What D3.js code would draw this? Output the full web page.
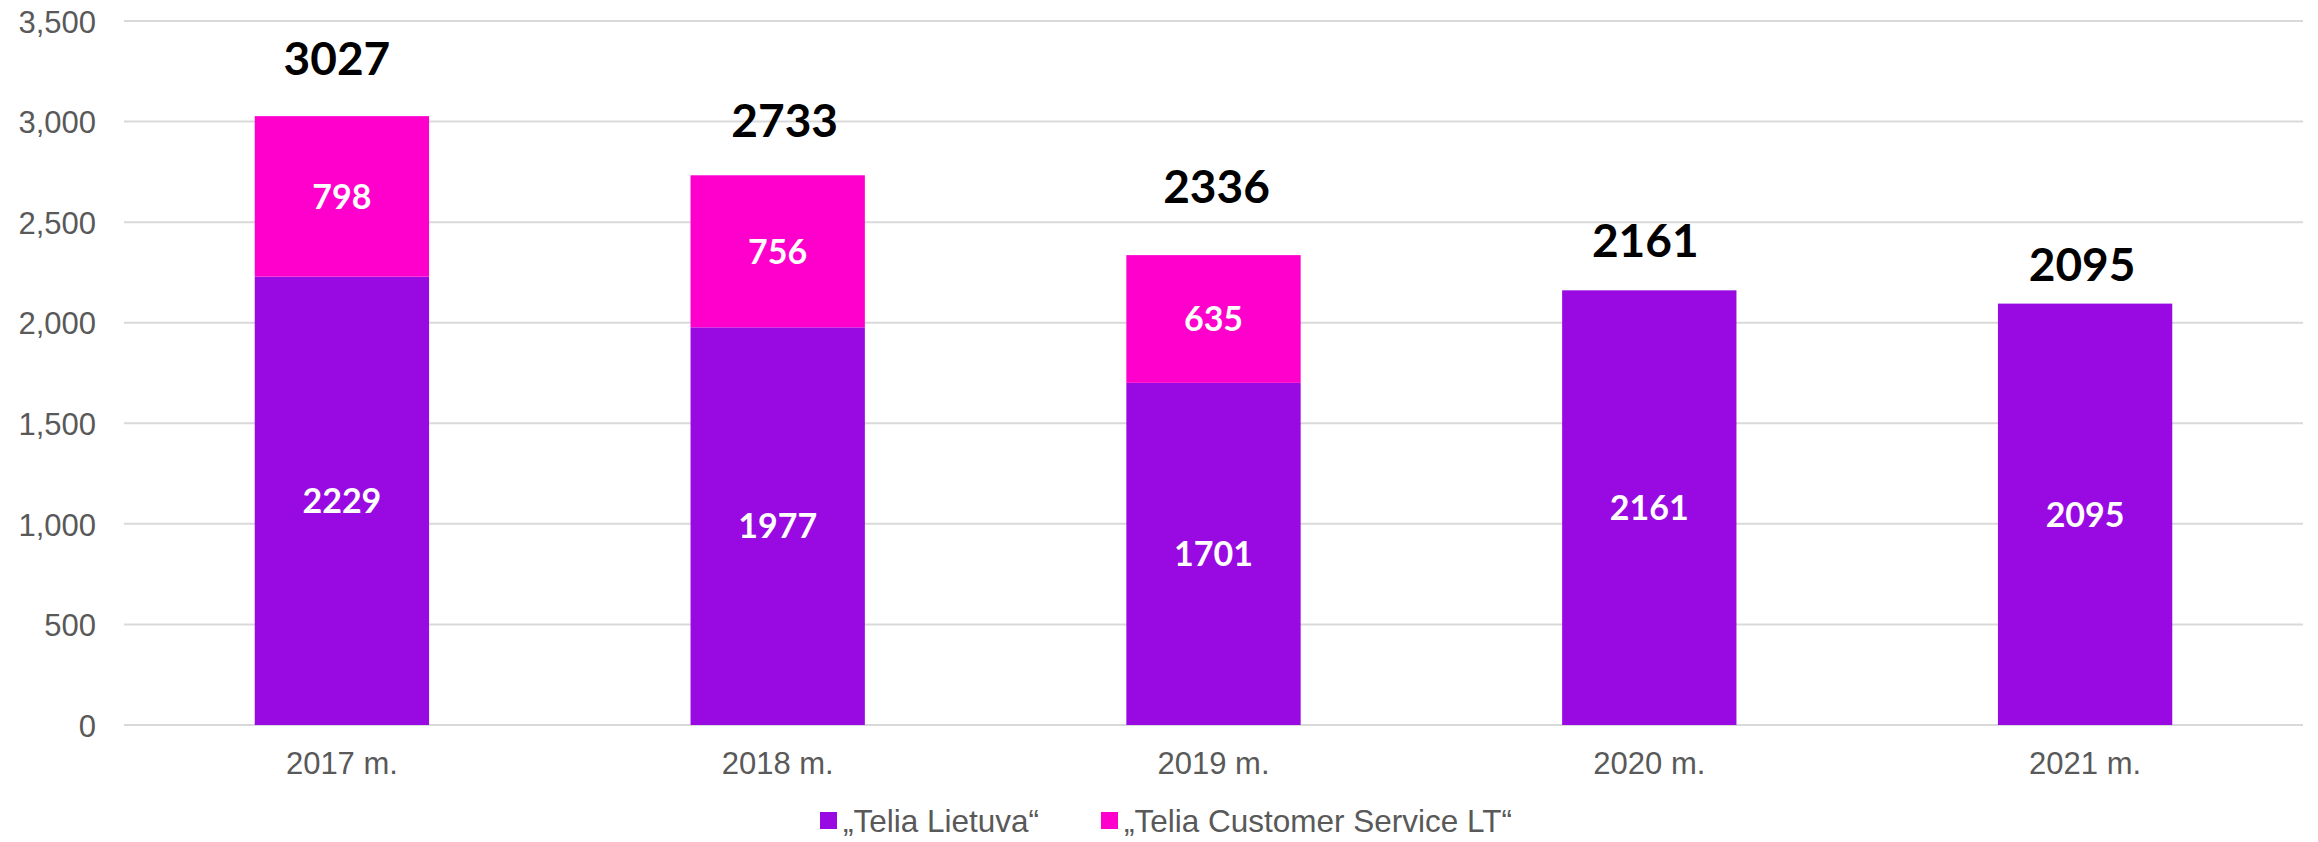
<!DOCTYPE html>
<head>
    <meta charset="utf-8">
    <script src="https://d3js.org/d3.v7.min.js"></script>
</head>
<style>
    body { margin: 0; background: #fff; }
    .yaxis path, .xaxis path, .xaxis line, .yaxis line { stroke: none; }
    .axis text { font-family: "Liberation Sans", Arial, sans-serif; font-size: 31px; fill: #595959; }
</style>
<body>
    <div id="chart"></div>
</body>

<script>
    // data
    const years = ["2017 m.", "2018 m.", "2019 m.", "2020 m.", "2021 m."];
    const teliaLietuva = [2229, 1977, 1701, 2161, 2095];
    const customerService = [798, 756, 635, 0, 0];
    const seriesNames = ["\u201ETelia Lietuva\u201C", "\u201ETelia Customer Service LT\u201C"];
    const yTicks = [0, 500, 1000, 1500, 2000, 2500, 3000, 3500];

    // total labels sit at uneven heights in the original (lift above bar, px)
    const totalLift = [41, 38, 52, 33, 23];
    const totalShift = [-5, 7, 3, -4, -3];

    const colors = ["#990AE3", "#FF00CC"];

    const W = 2318, H = 842;
    const margin = {top: 21, right: 15, bottom: 117, left: 124},
        width = W - margin.left - margin.right,
        height = H - margin.top - margin.bottom;

    const svg = d3.select("#chart")
        .append("svg")
        .attr("width", W)
        .attr("height", H);

    const g = svg.append("g")
        .attr("transform", `translate(${margin.left},${margin.top})`);

    const rows = years.map((d, i) => ({year: d, a: teliaLietuva[i], b: customerService[i]}));
    const stacked = d3.stack().keys(["a", "b"])(rows);

    const x = d3.scaleBand()
        .domain(years)
        .range([0, width])
        .paddingInner(0.6)
        .paddingOuter(0.3);

    const y = d3.scaleLinear()
        .domain([0, 3500])
        .range([height, 0]);

    // gridlines
    g.append("g")
        .selectAll("line")
        .data(yTicks)
        .join("line")
        .attr("x1", 0)
        .attr("x2", width)
        .attr("y1", d => y(d))
        .attr("y2", d => y(d))
        .attr("stroke", "#d9d9d9")
        .attr("stroke-width", 2);

    // y axis
    g.append("g")
        .attr("class", "axis yaxis")
        .call(d3.axisLeft(y).tickValues(yTicks).tickFormat(d3.format(",")).tickSize(0).tickPadding(28))
        .selectAll("text")
        .attr("dy", "0.36em");

    // x axis
    g.append("g")
        .attr("class", "axis xaxis")
        .attr("transform", `translate(0,${height})`)
        .call(d3.axisBottom(x).tickSize(0).tickPadding(27));

    // bars
    stacked.forEach((s, k) => {
        g.append("g")
            .attr("fill", colors[k])
            .selectAll("rect")
            .data(s)
            .join("rect")
            .attr("x", d => x(d.data.year))
            .attr("y", d => y(d[1]))
            .attr("width", x.bandwidth())
            .attr("height", d => y(d[0]) - y(d[1]));

        g.append("g")
            .selectAll("text")
            .data(s.filter(d => d[1] - d[0] > 0))
            .join("text")
            .attr("x", d => x(d.data.year) + x.bandwidth() / 2)
            .attr("y", d => y((d[0] + d[1]) / 2))
            .attr("dy", "0.36em")
            .attr("text-anchor", "middle")
            .style("font-family", "Lato, 'Noto Sans', sans-serif")
            .style("font-weight", 700)
            .style("font-size", "34px")
            .style("fill", "#fff")
            .text(d => d[1] - d[0]);
    });

    // totals
    g.append("g")
        .selectAll("text")
        .data(rows)
        .join("text")
        .attr("x", (d, i) => x(d.year) + x.bandwidth() / 2 + totalShift[i])
        .attr("y", (d, i) => y(d.a + d.b) - totalLift[i])
        .attr("text-anchor", "middle")
        .style("font-family", "Lato, 'Noto Sans', sans-serif")
        .style("font-weight", 700)
        .style("font-size", "46px")
        .style("fill", "#000")
        .text(d => d.a + d.b);

    // legend
    const legendX = [820, 1101];
    const legend = svg.append("g");
    seriesNames.forEach((name, i) => {
        legend.append("rect")
            .attr("x", legendX[i])
            .attr("y", 812)
            .attr("width", 17)
            .attr("height", 17)
            .attr("fill", colors[i]);
        legend.append("text")
            .attr("x", legendX[i] + 23)
            .attr("y", 832)
            .style("font-family", "'Liberation Sans', Arial, sans-serif")
            .style("font-size", "31.5px")
            .style("fill", "#595959")
            .text(name);
    });
</script>
